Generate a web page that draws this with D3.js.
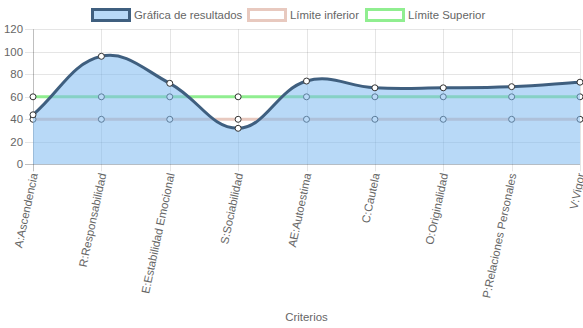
<!DOCTYPE html>
<html><head><meta charset="utf-8">
<script src="https://cdn.jsdelivr.net/npm/d3@7"></script>
<style>body{margin:0;background:#fff}svg{display:block;font-family:"Liberation Sans",Arial,sans-serif}</style>
</head><body><svg id="c" width="583" height="328"></svg>
<script>
const categories = ["A:Ascendencia","R:Responsabilidad","E:Estabilidad Emocional","S:Sociabilidad","AE:Autoestima","C:Cautela","O:Originalidad","P:Relaciones Personales","V:Vigor"];
const resultados = [44,96,72,32,74,68,68,69,73];
const limiteInferior = [40,40,40,40,40,40,40,40,40];
const limiteSuperior = [60,60,60,60,60,60,60,60,60];
const yTicks = [0,20,40,60,80,100,120];
const legendLabels = ["Gráfica de resultados","Límite inferior","Límite Superior"];
const axisTitle = "Criterios";

const svg = d3.select("#c");
const L=33,R=580,T=29.3,B=164.3;
const FS=11.4;
const x = d3.scalePoint().domain(categories).range([L,R]);
const y = d3.scaleLinear().domain([0,120]).range([B,T]);
const grey="#666";

// grid
const g = svg.append("g");
yTicks.forEach(t=>{
  g.append("line").attr("x1",L-8).attr("x2",R).attr("y1",Math.round(y(t))+0.5).attr("y2",Math.round(y(t))+0.5)
   .attr("stroke", t===0?"rgba(0,0,0,0.25)":"rgba(0,0,0,0.1)");
  svg.append("text").attr("x",L-10).attr("y",y(t)).attr("dy","0.35em").attr("text-anchor","end")
   .attr("font-size",FS).attr("fill",grey).text(t);
});
categories.forEach((c,i)=>{
  g.append("line").attr("x1",Math.round(x(c))+0.5).attr("x2",Math.round(x(c))+0.5).attr("y1",T).attr("y2",B+7)
   .attr("stroke", i===0?"rgba(0,0,0,0.25)":"rgba(0,0,0,0.1)");
  svg.append("text").attr("transform",`translate(${x(c)+1},${B+9}) rotate(-78)`)
   .attr("text-anchor","end").attr("dy","0.35em").attr("font-size",FS).attr("fill",grey).text(c);
});
svg.append("text").attr("x",(L+R)/2).attr("y",321).attr("text-anchor","middle").attr("font-size",FS).attr("fill",grey).text(axisTitle);

// Chart.js style spline
function splinePath(vals){
  const pts = vals.map((v,i)=>({x:x(categories[i]),y:y(v)}));
  const t=0.4;
  pts.forEach((p,i)=>{
    const prev=pts[i-1]||p, next=pts[i+1]||p;
    const d01=Math.hypot(p.x-prev.x,p.y-prev.y), d12=Math.hypot(next.x-p.x,next.y-p.y);
    let s01=d01/(d01+d12), s12=d12/(d01+d12);
    if(isNaN(s01))s01=0; if(isNaN(s12))s12=0;
    const fa=t*s01, fb=t*s12;
    p.cpPx=p.x-fa*(next.x-prev.x); p.cpPy=p.y-fa*(next.y-prev.y);
    p.cpNx=p.x+fb*(next.x-prev.x); p.cpNy=p.y+fb*(next.y-prev.y);
    p.cpPy=Math.max(T,Math.min(B,p.cpPy)); p.cpNy=Math.max(T,Math.min(B,p.cpNy));
  });
  let d=`M${pts[0].x},${pts[0].y}`;
  for(let i=1;i<pts.length;i++){
    const a=pts[i-1],b=pts[i];
    d+=`C${a.cpNx},${a.cpNy},${b.cpPx},${b.cpPy},${b.x},${b.y}`;
  }
  return {d,pts};
}
function points(vals){
  svg.append("g").selectAll("circle").data(vals).join("circle")
   .attr("cx",(v,i)=>x(categories[i])).attr("cy",v=>y(v)).attr("r",3)
   .attr("fill","#fff").attr("stroke","#333").attr("stroke-width",1);
}
// limit lines (drawn first)
const sup = splinePath(limiteSuperior);
svg.append("path").attr("d",sup.d).attr("fill","none").attr("stroke","#90ee90").attr("stroke-width",3);
points(limiteSuperior);
const inf = splinePath(limiteInferior);
svg.append("path").attr("d",inf.d).attr("fill","none").attr("stroke","#e8c9bf").attr("stroke-width",3);
points(limiteInferior);
// results
const res = splinePath(resultados);
svg.append("path").attr("d",res.d+`L${R},${B}L${L},${B}Z`).attr("fill","rgba(126,186,240,0.55)");
svg.append("path").attr("d",res.d).attr("fill","none").attr("stroke","#3f5f7f").attr("stroke-width",3);
points(resultados);

// legend
const leg=[{x:91,t:legendLabels[0],f:"rgba(126,186,240,0.55)",s:"#3f5f7f"},
           {x:247,t:legendLabels[1],f:"#fff",s:"#e8c9bf"},
           {x:365,t:legendLabels[2],f:"#fff",s:"#90ee90"}];
leg.forEach(l=>{
  svg.append("rect").attr("x",l.x+1.5).attr("y",9.5).attr("width",37).attr("height",11).attr("fill",l.f).attr("stroke",l.s).attr("stroke-width",3);
  svg.append("text").attr("x",l.x+43).attr("y",15).attr("dy","0.35em").attr("font-size",FS).attr("fill",grey).text(l.t);
});
</script></body></html>
